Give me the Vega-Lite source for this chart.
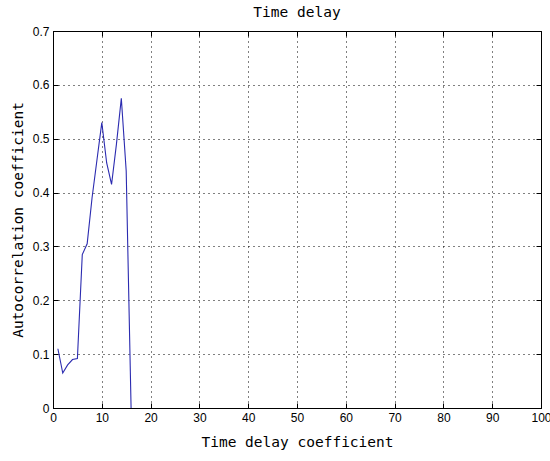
{
  "$schema": "https://vega.github.io/schema/vega-lite/v6.json",
  "width": 488,
  "height": 377,
  "autosize": {"type": "none"},
  "padding": {"left": 53, "top": 31, "right": 9, "bottom": 53},
  "background": "white",
  "title": {"text": "Time delay", "font": "DejaVu Sans Mono", "fontSize": 14.5, "fontWeight": "normal", "color": "black", "offset": 5},
  "config": {
    "view": {"stroke": "black", "strokeWidth": 1},
    "axis": {
      "domainColor": "black",
      "tickColor": "black",
      "labelColor": "black",
      "titleColor": "black",
      "labelFont": "Liberation Sans",
      "labelFontSize": 12,
      "titleFont": "DejaVu Sans Mono",
      "titleFontSize": 14.5,
      "titleFontWeight": "normal",
      "gridColor": "black",
      "gridDash": [1, 4],
      "gridOpacity": 1,
      "tickSize": -5
    }
  },
  "data": {"values": [
    {"lag": 1, "r": 0.11},
    {"lag": 2, "r": 0.065},
    {"lag": 3, "r": 0.08},
    {"lag": 4, "r": 0.09},
    {"lag": 5, "r": 0.092},
    {"lag": 6, "r": 0.285},
    {"lag": 7, "r": 0.305},
    {"lag": 8, "r": 0.39},
    {"lag": 9, "r": 0.46},
    {"lag": 10, "r": 0.53},
    {"lag": 11, "r": 0.455},
    {"lag": 12, "r": 0.415},
    {"lag": 13, "r": 0.49},
    {"lag": 14, "r": 0.575},
    {"lag": 15, "r": 0.44},
    {"lag": 16, "r": 0.0}
  ]},
  "layer": [
    {
      "mark": {"type": "line", "color": "#2b2bb0", "strokeWidth": 1.1, "clip": true},
      "encoding": {
        "x": {"field": "lag", "type": "quantitative", "scale": {"domain": [0, 100], "nice": false},
              "axis": {"title": "Time delay coefficient", "values": [0,10,20,30,40,50,60,70,80,90,100], "grid": true, "labelPadding": 9, "titlePadding": 12, "labelFlush": false}},
        "y": {"field": "r", "type": "quantitative", "scale": {"domain": [0, 0.7], "nice": false, "zero": false},
              "axis": {"title": "Autocorrelation coefficient", "values": [0,0.1,0.2,0.3,0.4,0.5,0.6,0.7], "format": "~g", "grid": true, "labelPadding": 9, "titlePadding": 7, "labelFlush": false}}
      }
    },
    {
      "mark": {"type": "line", "opacity": 0},
      "encoding": {
        "x": {"field": "lag", "type": "quantitative", "axis": {"orient": "top", "title": null, "labels": false, "grid": false, "domain": false, "values": [0,10,20,30,40,50,60,70,80,90,100]}},
        "y": {"field": "r", "type": "quantitative", "axis": {"orient": "right", "title": null, "labels": false, "grid": false, "domain": false, "values": [0,0.1,0.2,0.3,0.4,0.5,0.6,0.7]}}
      }
    }
  ],
  "resolve": {"axis": {"x": "independent", "y": "independent"}}
}
